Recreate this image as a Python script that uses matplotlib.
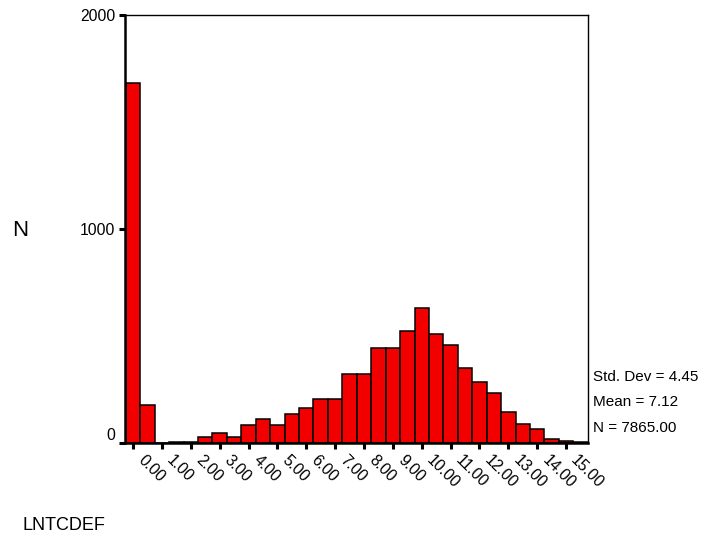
import matplotlib
matplotlib.use("Agg")
import matplotlib.pyplot as plt
import matplotlib.transforms as mtransforms
import numpy as np

plt.rcParams['font.family'] = ['Liberation Sans', 'DejaVu Sans']

# Histogram of LNTCDEF, bins of width 0.5 centred on 0.0, 0.5, ..., 15.5
bin_centers = [0.0, 0.5, 1.0, 1.5, 2.0, 2.5, 3.0, 3.5, 4.0, 4.5, 5.0, 5.5,
               6.0, 6.5, 7.0, 7.5, 8.0, 8.5, 9.0, 9.5, 10.0, 10.5, 11.0, 11.5,
               12.0, 12.5, 13.0, 13.5, 14.0, 14.5, 15.0, 15.5]
counts = [1680, 179, 0, 7, 7, 26, 48, 26, 82, 110, 82, 137,
          164, 206, 206, 321, 321, 446, 446, 522, 632, 508, 459, 349,
          287, 232, 143, 87, 67, 19, 11, 5]
bin_width = 0.5

x_ticks = [0, 1, 2, 3, 4, 5, 6, 7, 8, 9, 10, 11, 12, 13, 14, 15]
x_tick_labels = [f"{v:.2f}" for v in x_ticks]
y_ticks = [0, 1000, 2000]
y_tick_labels = ["0", "1000", "2000"]

stats_lines = ["Std. Dev = 4.45", "Mean = 7.12", "N = 7865.00"]
x_title = "LNTCDEF"
y_title = "N"

W, H = 701, 537
fig = plt.figure(figsize=(W / 100, H / 100), dpi=100)
ax = fig.add_axes([125 / W, 1 - 443 / H, (588 - 125) / W, (443 - 15) / H])

ax.bar(bin_centers, counts, width=bin_width, color='#F20000',
       edgecolor='black', linewidth=1.1, zorder=2)

ax.set_xlim(-0.28, 15.76)
ax.set_ylim(0, 2000)

ax.set_xticks(x_ticks)
ax.set_xticklabels(x_tick_labels, rotation=-45, ha='left', va='top',
                   fontsize=11.3)
ax.set_yticks(y_ticks)
ax.set_yticklabels(y_tick_labels, fontsize=11.3)

ax.tick_params(axis='both', direction='out', length=4, width=2.2,
               color='black')
ax.tick_params(axis='x', pad=3)
ax.tick_params(axis='y', pad=3)

# nudge the zero label up so it sits above the baseline
zero_lbl = ax.get_yticklabels()[0]
zero_lbl.set_transform(zero_lbl.get_transform() +
                       mtransforms.ScaledTranslation(0, 9 / 100, fig.dpi_scale_trans))
for lbl in ax.get_xticklabels():
    lbl.set_transform(lbl.get_transform() +
                      mtransforms.ScaledTranslation(2 / 100, 0, fig.dpi_scale_trans))

for side in ['left', 'bottom']:
    ax.spines[side].set_linewidth(1.8)
for side in ['top', 'right']:
    ax.spines[side].set_linewidth(1.0)

fig.text(20 / W, 1 - 230 / H, y_title, fontsize=16, ha='center', va='center')
fig.text(22 / W, 1 - 525 / H, x_title, fontsize=13, ha='left', va='center')

for i, line in enumerate(stats_lines):
    fig.text(593 / W, 1 - (377 + 25.5 * i) / H, line, fontsize=11,
             ha='left', va='center')

fig.savefig("out.png", dpi=100)
